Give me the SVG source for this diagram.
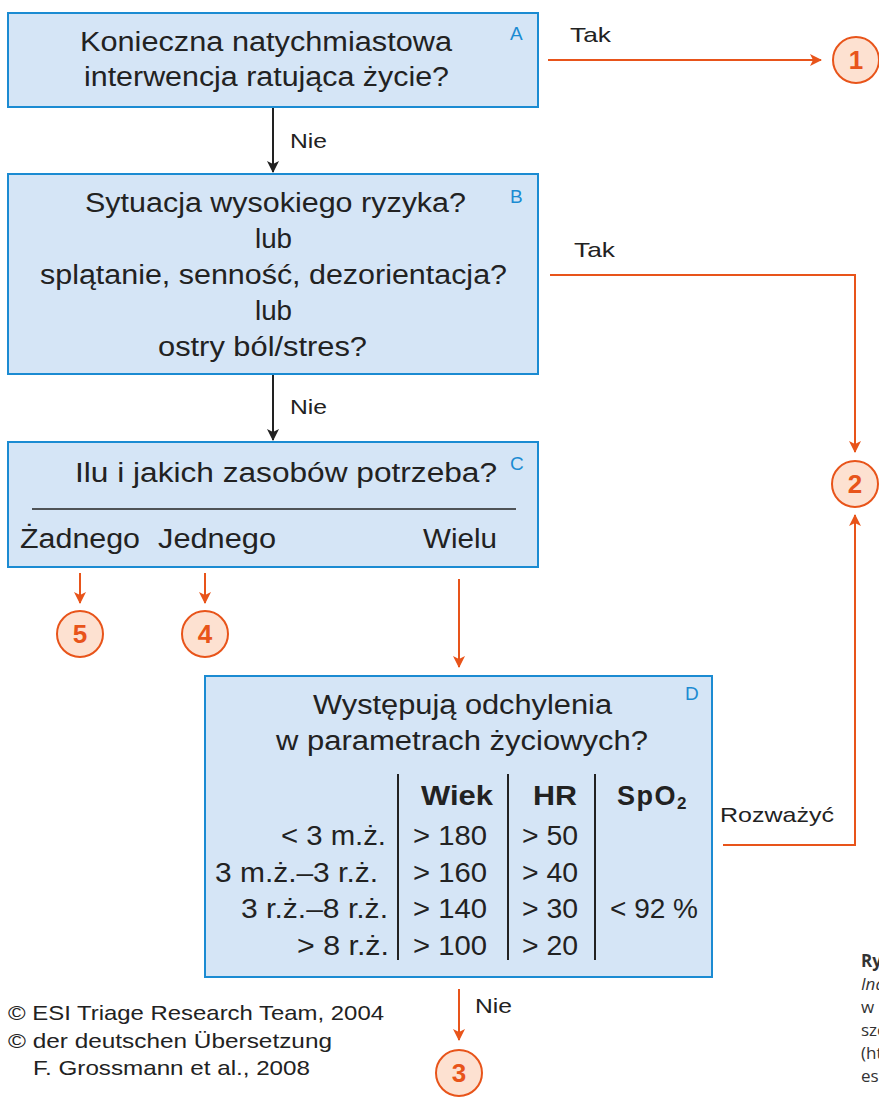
<svg xmlns="http://www.w3.org/2000/svg" width="879" height="1099" viewBox="0 0 879 1099">
<style>
.box{fill:#d5e5f6;stroke:#1b8bd2;stroke-width:2}
.t{font-family:"Liberation Sans",Arial,sans-serif;font-size:27px;fill:#222}
.b{font-weight:bold}
.lt{font-family:"Liberation Sans",Arial,sans-serif;font-size:19px;fill:#1b8bd2}
.lbl{font-family:"Liberation Sans",Arial,sans-serif;font-size:21px;fill:#222}
.circ{fill:#fde1d1;stroke:#e8541a;stroke-width:2}
.num{font-family:"Liberation Sans",Arial,sans-serif;font-size:26px;font-weight:bold;fill:#e8541a;text-anchor:middle}
.ow{fill:none;stroke:#e8541a;stroke-width:2}
.bk{fill:none;stroke:#222;stroke-width:2}
.cap{font-family:"Open Sans",sans-serif;font-size:17px;fill:#333}
</style>
<defs>
<marker id="ao" viewBox="0 0 12 12" refX="11" refY="6" markerWidth="12" markerHeight="12" markerUnits="userSpaceOnUse" orient="auto">
<path d="M0,0 L12,6 L0,12 L3,6 z" fill="#e8541a"/>
</marker>
<marker id="ab" viewBox="0 0 12 12" refX="11" refY="6" markerWidth="12" markerHeight="12" markerUnits="userSpaceOnUse" orient="auto">
<path d="M0,0 L12,6 L0,12 L3,6 z" fill="#222"/>
</marker>
</defs>
<g id="connectors">
<line class="bk" x1="273" y1="108" x2="273" y2="172" marker-end="url(#ab)"/>
<text class="lbl" x="290" y="148" textLength="37" lengthAdjust="spacingAndGlyphs">Nie</text>
<line class="bk" x1="273" y1="375" x2="273" y2="440" marker-end="url(#ab)"/>
<text class="lbl" x="290" y="414" textLength="37" lengthAdjust="spacingAndGlyphs">Nie</text>
<line class="ow" x1="548" y1="60" x2="821" y2="60" marker-end="url(#ao)"/>
<text class="lbl" x="570" y="42" textLength="41" lengthAdjust="spacingAndGlyphs">Tak</text>
<polyline class="ow" points="550,275 855,275 855,452" marker-end="url(#ao)"/>
<text class="lbl" x="574" y="257" textLength="41" lengthAdjust="spacingAndGlyphs">Tak</text>
<polyline class="ow" points="723,845 855,845 855,515" marker-end="url(#ao)"/>
<text class="lbl" x="720" y="822" textLength="114" lengthAdjust="spacingAndGlyphs">Rozważyć</text>
<line class="ow" x1="80" y1="573" x2="80" y2="603" marker-end="url(#ao)"/>
<line class="ow" x1="205" y1="573" x2="205" y2="603" marker-end="url(#ao)"/>
<line class="ow" x1="459" y1="579" x2="459" y2="667" marker-end="url(#ao)"/>
<line class="ow" x1="459" y1="989" x2="459" y2="1040" marker-end="url(#ao)"/>
<text class="lbl" x="475" y="1013" textLength="37" lengthAdjust="spacingAndGlyphs">Nie</text>
</g>
<g id="nodeA">
<rect class="box" x="8" y="13" width="530" height="94"/>
<text class="t" x="80" y="51" textLength="372" lengthAdjust="spacingAndGlyphs">Konieczna natychmiastowa</text>
<text class="t" x="84" y="86" textLength="365" lengthAdjust="spacingAndGlyphs">interwencja ratująca życie?</text>
<text class="lt" x="510" y="40">A</text>
</g>
<g id="nodeB">
<rect class="box" x="8" y="174" width="530" height="200"/>
<text class="t" x="85" y="212" textLength="381" lengthAdjust="spacingAndGlyphs">Sytuacja wysokiego ryzyka?</text>
<text class="t" x="255" y="248" textLength="37" lengthAdjust="spacingAndGlyphs">lub</text>
<text class="t" x="40" y="284" textLength="467" lengthAdjust="spacingAndGlyphs">splątanie, senność, dezorientacja?</text>
<text class="t" x="255" y="320" textLength="37" lengthAdjust="spacingAndGlyphs">lub</text>
<text class="t" x="158" y="356" textLength="209" lengthAdjust="spacingAndGlyphs">ostry ból/stres?</text>
<text class="lt" x="510" y="203">B</text>
</g>
<g id="nodeC">
<rect class="box" x="8" y="442" width="530" height="125"/>
<text class="t" x="75" y="482" textLength="422" lengthAdjust="spacingAndGlyphs">Ilu i jakich zasobów potrzeba?</text>
<line x1="32" y1="509" x2="516" y2="509" stroke="#222" stroke-width="1.5"/>
<text class="t" x="20" y="548" textLength="120" lengthAdjust="spacingAndGlyphs">Żadnego</text>
<text class="t" x="158" y="548" textLength="118" lengthAdjust="spacingAndGlyphs">Jednego</text>
<text class="t" x="423" y="548" textLength="74" lengthAdjust="spacingAndGlyphs">Wielu</text>
<text class="lt" x="510" y="470">C</text>
</g>
<g id="nodeD">
<rect class="box" x="205" y="676" width="507" height="301"/>
<text class="t" x="313" y="714" textLength="299" lengthAdjust="spacingAndGlyphs">Występują odchylenia</text>
<text class="t" x="276" y="750" textLength="372" lengthAdjust="spacingAndGlyphs">w parametrach życiowych?</text>
<text class="lt" x="685" y="700">D</text>
<g stroke="#222" stroke-width="2">
<line x1="398" y1="774" x2="398" y2="960"/>
<line x1="508" y1="774" x2="508" y2="960"/>
<line x1="595" y1="774" x2="595" y2="960"/>
</g>
<text class="t b" x="421" y="805" textLength="72" lengthAdjust="spacingAndGlyphs">Wiek</text>
<text class="t b" x="533" y="805" textLength="44" lengthAdjust="spacingAndGlyphs">HR</text>
<text class="t b" x="617" y="805" letter-spacing="1.5">SpO<tspan font-size="17" dy="4" letter-spacing="0">2</tspan></text>
<text class="t" x="281" y="845" textLength="105" lengthAdjust="spacingAndGlyphs">&lt; 3 m.ż.</text>
<text class="t" x="215" y="882" textLength="163" lengthAdjust="spacingAndGlyphs">3 m.ż.–3 r.ż.</text>
<text class="t" x="241" y="918" textLength="147" lengthAdjust="spacingAndGlyphs">3 r.ż.–8 r.ż.</text>
<text class="t" x="297" y="955" textLength="92" lengthAdjust="spacingAndGlyphs">&gt; 8 r.ż.</text>
<text class="t" x="413" y="845" textLength="74" lengthAdjust="spacingAndGlyphs">&gt; 180</text>
<text class="t" x="413" y="882" textLength="74" lengthAdjust="spacingAndGlyphs">&gt; 160</text>
<text class="t" x="413" y="918" textLength="74" lengthAdjust="spacingAndGlyphs">&gt; 140</text>
<text class="t" x="413" y="955" textLength="74" lengthAdjust="spacingAndGlyphs">&gt; 100</text>
<text class="t" x="522" y="845" textLength="56" lengthAdjust="spacingAndGlyphs">&gt; 50</text>
<text class="t" x="522" y="882" textLength="56" lengthAdjust="spacingAndGlyphs">&gt; 40</text>
<text class="t" x="522" y="918" textLength="56" lengthAdjust="spacingAndGlyphs">&gt; 30</text>
<text class="t" x="522" y="955" textLength="56" lengthAdjust="spacingAndGlyphs">&gt; 20</text>
<text class="t" x="610" y="918" textLength="88" lengthAdjust="spacingAndGlyphs">&lt; 92 %</text>
</g>
<g id="c1"><circle class="circ" cx="856" cy="60" r="23"/><text class="num" x="856" y="69">1</text></g>
<g id="c2"><circle class="circ" cx="855" cy="484" r="23"/><text class="num" x="855" y="493">2</text></g>
<g id="c3"><circle class="circ" cx="459" cy="1073" r="23"/><text class="num" x="459" y="1082">3</text></g>
<g id="c4"><circle class="circ" cx="205" cy="634" r="23"/><text class="num" x="205" y="643">4</text></g>
<g id="c5"><circle class="circ" cx="80" cy="634" r="23"/><text class="num" x="80" y="643">5</text></g>
<g id="copyright">
<text class="lbl" x="8" y="1020" textLength="376" lengthAdjust="spacingAndGlyphs">© ESI Triage Research Team, 2004</text>
<text class="lbl" x="8" y="1048" textLength="324" lengthAdjust="spacingAndGlyphs">© der deutschen Übersetzung</text>
<text class="lbl" x="33" y="1075" textLength="277" lengthAdjust="spacingAndGlyphs">F. Grossmann et al., 2008</text>
</g>
<g id="caption">
<text class="cap" x="861" y="967" font-weight="bold">Ryc.</text>
<text class="cap" x="861" y="990" font-style="italic">Ind</text>
<text class="cap" x="861" y="1013">w</text>
<text class="cap" x="861" y="1036">szo</text>
<text class="cap" x="861" y="1059">(ht</text>
<text class="cap" x="861" y="1082">esi</text>
</g>
</svg>
